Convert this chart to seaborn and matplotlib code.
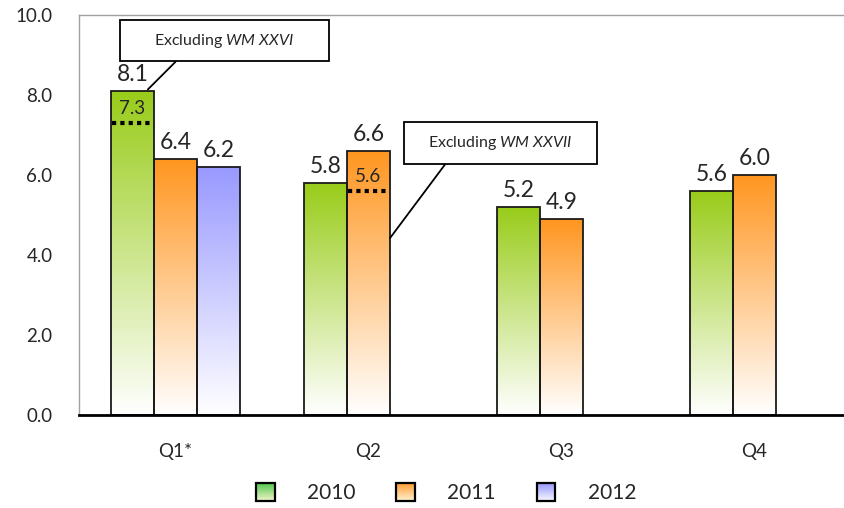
import numpy as np
import pandas as pd
import matplotlib
matplotlib.use("Agg")
import matplotlib.pyplot as plt
import seaborn as sns
from matplotlib.patches import Rectangle
from matplotlib.legend_handler import HandlerBase
from matplotlib.colors import to_rgb

# ---- data -------------------------------------------------------------
quarters = ["Q1", "Q2", "Q3", "Q4"]
quarter_labels = ["Q1*", "Q2", "Q3", "Q4"]
years = ["2010", "2011", "2012"]
values_2010 = [8.1, 5.8, 5.2, 5.6]
values_2011 = [6.4, 6.6, 4.9, 6.0]
values_2012 = [6.2, np.nan, np.nan, np.nan]

# values excluding one-off events
excl_quarters = ["Q1", "Q2"]
excl_years = ["2010", "2011"]
excl_values = [7.3, 5.6]
excl_events = ["WM XXVI", "WM XXVII"]

y_ticks = [0, 2, 4, 6, 8, 10]

# ---- styling ------------------------------------------------------------
top_colors = {"2010": "#99CC1A", "2011": "#FF9620", "2012": "#9999FF"}
legend_grad = {
    "2010": ("#4CC64C", "#F4F4C8"),
    "2011": ("#FF9A30", "#FFF2D0"),
    "2012": ("#9494FF", "#F8F8FF"),
}

sns.set_style("white")
plt.rcParams["font.family"] = ["Lato", "DejaVu Sans"]
plt.rcParams["mathtext.fontset"] = "custom"
plt.rcParams["mathtext.rm"] = "Lato"
plt.rcParams["mathtext.it"] = "Lato:italic"

df = pd.DataFrame({
    "quarter": quarters * 3,
    "year": [y for y in years for _ in quarters],
    "value": values_2010 + values_2011 + values_2012,
}).dropna()

fig = plt.figure(figsize=(8.44, 5.08), dpi=100)
ax = fig.add_axes([79 / 844, 1 - 415 / 508, 772 / 844, 400 / 508])

sns.barplot(data=df, x="quarter", y="value", hue="year", order=quarters,
            hue_order=years, palette=top_colors, width=0.668, gap=0,
            saturation=1, errorbar=None, edgecolor="#1a1a1a", linewidth=1.3,
            legend=False, ax=ax)

# map each bar to its (quarter, year) and fill it with a vertical gradient
bar_of = {}
for yi, cont in enumerate(ax.containers):
    year = years[yi]
    for patch in cont.patches:
        h = patch.get_height()
        if not np.isfinite(h) or h <= 0:
            continue
        x0 = patch.get_x()
        w = patch.get_width()
        qi = int(round(x0 + w / 2))
        bar_of[(quarters[qi], year)] = patch
        top = np.array(to_rgb(top_colors[year]))
        t = np.linspace(0, 1, 256)[:, None]
        grad = top[None, :] * (1 - t) + np.ones(3)[None, :] * t
        grad = grad[:, None, :]
        im = ax.imshow(grad, extent=[x0, x0 + w, 0, h], origin="upper",
                       aspect="auto", zorder=patch.get_zorder() - 0.05,
                       interpolation="bilinear")
        im.set_clip_path(patch)
        patch.set_facecolor("none")
    ax.bar_label(cont, fmt="%.1f", padding=4, fontsize=16.5)

# dotted markers for values excluding the events
for q, yr, v in zip(excl_quarters, excl_years, excl_values):
    p = bar_of[(q, yr)]
    x0, w = p.get_x(), p.get_width()
    ax.plot([x0 + 0.004, x0 + w - 0.004], [v, v], color="black", lw=3,
            linestyle=(0, (1, 1)), solid_capstyle="butt",
            dash_capstyle="butt", zorder=3)
    ax.text(x0 + w / 2, v + 0.16, f"{v:.1f}", ha="center", va="bottom",
            fontsize=13.5, zorder=3)

# callout boxes
callouts = [
    # box x0, x1, y0, y1, line start, line end
    ((-0.288, 0.795, 8.85, 9.875), (0.0, 8.83), (-0.143, 8.14)),
    ((1.184, 2.184, 6.275, 7.325), (1.396, 6.26), (1.111, 4.42)),
]
for ev, (box, p_from, p_to) in zip(excl_events, callouts):
    bx0, bx1, by0, by1 = box
    ax.add_patch(Rectangle((bx0, by0), bx1 - bx0, by1 - by0,
                           facecolor="white", edgecolor="black", lw=1.3,
                           zorder=4, clip_on=False))
    label = "Excluding $\\mathit{" + ev.replace(" ", "\\ ") + "}$"
    ax.text((bx0 + bx1) / 2, (by0 + by1) / 2, label, ha="center",
            va="center", fontsize=11.5, zorder=5)
    ax.plot([p_from[0], p_to[0]], [p_from[1], p_to[1]], color="black",
            lw=1.3, zorder=4, clip_on=False)

# axes
ax.set_xlim(-0.5, 3.5)
ax.set_ylim(0, 10)
ax.set_yticks(y_ticks)
ax.set_yticklabels([f"{v:.1f}" for v in y_ticks], fontsize=13.5)
ax.set_xticks(range(len(quarters)))
ax.set_xticklabels(quarter_labels, fontsize=13.5)
ax.tick_params(axis="y", length=0, pad=19)
ax.tick_params(axis="x", length=0, pad=20)
ax.set_xlabel("")
ax.set_ylabel("")
for side in ["top", "left"]:
    ax.spines[side].set_color("#A0A0A0")
    ax.spines[side].set_linewidth(1.0)
ax.spines["right"].set_visible(False)
ax.spines["bottom"].set_color("black")
ax.spines["bottom"].set_linewidth(2.0)
ax.spines["bottom"].set_zorder(6)


# legend with gradient swatches
class GradientSwatch:
    def __init__(self, top, bottom):
        self.top = np.array(to_rgb(top))
        self.bottom = np.array(to_rgb(bottom))


class GradientHandler(HandlerBase):
    def create_artists(self, legend, orig_handle, xdescent, ydescent,
                       width, height, fontsize, trans):
        side = min(width, height)
        x0 = -xdescent + (width - side) / 2
        y0 = -ydescent + (height - side) / 2
        n = 24
        arts = []
        for i in range(n):
            t = i / (n - 1)
            c = orig_handle.bottom * (1 - t) + orig_handle.top * t
            arts.append(Rectangle((x0, y0 + side * i / n), side, side / n + 0.3,
                                  facecolor=c, edgecolor="none",
                                  transform=trans))
        arts.append(Rectangle((x0, y0), side, side, facecolor="none",
                              edgecolor="black", lw=1.6, transform=trans))
        return arts


handles = [GradientSwatch(*legend_grad[y]) for y in years]
fig.legend(handles, years, handler_map={GradientSwatch: GradientHandler()},
           loc="center", bbox_to_anchor=(0.528, 0.03), ncol=3, frameon=False,
           fontsize=15, handlelength=1.0, handleheight=1.0,
           handletextpad=1.5, columnspacing=1.9)

fig.savefig("out.png", dpi=100)
